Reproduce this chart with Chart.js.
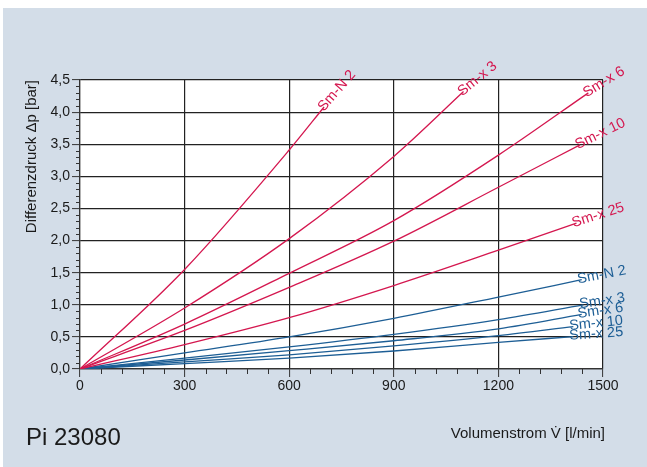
<!DOCTYPE html>
<html>
<head>
<meta charset="utf-8">
<script src="https://cdn.jsdelivr.net/npm/chart.js@4.4.1/dist/chart.umd.min.js"></script>
<style>
    html, body { margin: 0; padding: 0; background: #ffffff; }
    #wrap { width: 647px; height: 467px; }
</style>
</head>
<body>
<div id="wrap"><canvas id="dpChart" width="647" height="467"></canvas></div>
<script>
// Achsen
const xTicks = [0, 300, 600, 900, 1200, 1500];
const yTicks = [0, 0.5, 1, 1.5, 2, 2.5, 3, 3.5, 4, 4.5];

// Kennlinien rot (Volumenstrom l/min, Differenzdruck bar)
const redSmN2X = [0, 300, 600, 700];
const redSmN2Y = [0, 1.55, 3.41, 4.08];
const redSmx3X = [0, 300, 600, 900, 1100];
const redSmx3Y = [0, 0.95, 2.03, 3.31, 4.32];
const redSmx6X = [0, 300, 600, 900, 1200, 1458];
const redSmx6Y = [0, 0.70, 1.49, 2.31, 3.33, 4.30];
const redSmx10X = [0, 300, 600, 900, 1200, 1434];
const redSmx10Y = [0, 0.60, 1.27, 1.99, 2.83, 3.49];
const redSmx25X = [0, 300, 600, 900, 1200, 1424];
const redSmx25Y = [0, 0.38, 0.80, 1.30, 1.85, 2.27];

// Kennlinien blau
const blueSmN2X = [0, 300, 600, 900, 1200, 1439];
const blueSmN2Y = [0, 0.25, 0.50, 0.79, 1.12, 1.39];
const blueSmx3X = [0, 300, 600, 900, 1200, 1444];
const blueSmx3Y = [0, 0.17, 0.345, 0.54, 0.77, 1.00];
const blueSmx6X = [0, 300, 600, 900, 1200, 1439];
const blueSmx6Y = [0, 0.14, 0.285, 0.44, 0.625, 0.85];
const blueSmx10X = [0, 300, 600, 900, 1200, 1415];
const blueSmx10Y = [0, 0.11, 0.22, 0.36, 0.52, 0.66];
const blueSmx25X = [0, 300, 600, 900, 1200, 1415];
const blueSmx25Y = [0, 0.085, 0.17, 0.28, 0.415, 0.505];

const RED = '#d4174f';
const BLUE = '#1d5e95';
const FONT = '"Liberation Sans", Arial, sans-serif';

function pts(xs, ys) {
    return xs.map((x, i) => ({ x: x, y: ys[i] }));
}

function curve(label, xs, ys, color) {
    return {
        label: label,
        data: pts(xs, ys),
        borderColor: color,
        borderWidth: 1.3,
        pointRadius: 0,
        fill: false,
        cubicInterpolationMode: 'monotone'
    };
}

const datasets = [
    curve('Sm-N 2', redSmN2X, redSmN2Y, RED),
    curve('Sm-x 3', redSmx3X, redSmx3Y, RED),
    curve('Sm-x 6', redSmx6X, redSmx6Y, RED),
    curve('Sm-x 10', redSmx10X, redSmx10Y, RED),
    curve('Sm-x 25', redSmx25X, redSmx25Y, RED),
    curve('Sm-N 2', blueSmN2X, blueSmN2Y, BLUE),
    curve('Sm-x 3', blueSmx3X, blueSmx3Y, BLUE),
    curve('Sm-x 6', blueSmx6X, blueSmx6Y, BLUE),
    curve('Sm-x 10', blueSmx10X, blueSmx10Y, BLUE),
    curve('Sm-x 25', blueSmx25X, blueSmx25Y, BLUE)
];

// Hintergrund: hellblaue Fläche, weißes Diagrammfeld
const backgroundPlugin = {
    id: 'bg',
    beforeDraw(chart) {
        const ctx = chart.ctx;
        const a = chart.chartArea;
        ctx.save();
        ctx.fillStyle = '#ffffff';
        ctx.fillRect(0, 0, chart.width, chart.height);
        ctx.fillStyle = '#d3dde8';
        ctx.fillRect(3, 8, chart.width - 3, chart.height - 8);
        ctx.fillStyle = '#ffffff';
        ctx.fillRect(a.left, a.top, a.right - a.left, a.bottom - a.top);
        ctx.restore();
    }
};

// Beschriftung der Kennlinien am Linienende, entlang der Linie gedreht
const lineLabelPlugin = {
    id: 'lineLabels',
    afterDatasetsDraw(chart) {
        const ctx = chart.ctx;
        ctx.save();
        ctx.font = '14.5px ' + FONT;
        ctx.textBaseline = 'middle';
        ctx.textAlign = 'left';
        chart.data.datasets.forEach((ds, i) => {
            const meta = chart.getDatasetMeta(i);
            const n = meta.data.length;
            const p1 = meta.data[n - 1];
            const p0 = meta.data[n - 2];
            const start = meta.data[0];
            // Mittel aus Sehne und letztem Abschnitt
            const a1 = Math.atan2(p1.y - p0.y, p1.x - p0.x);
            const a2 = Math.atan2(p1.y - start.y, p1.x - start.x);
            const ang = (a1 + a2) / 2;
            ctx.save();
            ctx.translate(p1.x, p1.y);
            ctx.rotate(ang);
            ctx.fillStyle = ds.borderColor;
            ctx.fillText(ds.label, -4, -1);
            ctx.restore();
        });
        ctx.restore();
    }
};

// Kleine Teilstriche, Achsentitel und Bildnummer
const extrasPlugin = {
    id: 'extras',
    afterDraw(chart) {
        const ctx = chart.ctx;
        const xs = chart.scales.x;
        const ys = chart.scales.y;
        const a = chart.chartArea;
        ctx.save();
        ctx.strokeStyle = '#333333';
        ctx.lineWidth = 1;
        for (let i = 0; i <= 45; i++) {
            if (i % 5 === 0) continue;
            const py = Math.round(ys.getPixelForValue(i / 10)) + 0.5;
            ctx.beginPath();
            ctx.moveTo(a.left - 4, py);
            ctx.lineTo(a.left, py);
            ctx.stroke();
        }
        for (let i = 0; i <= 25; i++) {
            if (i % 5 === 0) continue;
            const px = Math.round(xs.getPixelForValue(i * 60)) + 0.5;
            ctx.beginPath();
            ctx.moveTo(px, a.bottom);
            ctx.lineTo(px, a.bottom + 5);
            ctx.stroke();
        }

        ctx.fillStyle = '#1a1a1a';
        // y-Achsentitel
        ctx.save();
        ctx.translate(32, a.top);
        ctx.rotate(-Math.PI / 2);
        ctx.font = '15px ' + FONT;
        ctx.textAlign = 'right';
        ctx.textBaseline = 'middle';
        ctx.fillText('Differenzdruck \u0394p [bar]', 0, 0);
        ctx.restore();

        // x-Achsentitel
        ctx.font = '15px ' + FONT;
        ctx.textAlign = 'right';
        ctx.textBaseline = 'middle';
        ctx.fillText('Volumenstrom V\u0307 [l/min]', a.right + 2, 434);

        // Bildnummer
        ctx.font = '24px ' + FONT;
        ctx.textAlign = 'left';
        ctx.fillText('Pi 23080', 26, 438);
        ctx.restore();
    }
};

const ctx = document.getElementById('dpChart').getContext('2d');

new Chart(ctx, {
    type: 'line',
    data: { datasets: datasets },
    options: {
        responsive: false,
        animation: false,
        events: [],
        layout: {
            padding: { top: 80, right: 44, bottom: 0, left: 0 }
        },
        plugins: {
            legend: { display: false },
            tooltip: { enabled: false }
        },
        scales: {
            x: {
                type: 'linear',
                min: 0,
                max: 1500,
                afterFit: (scale) => { scale.height = 467 - 369; },
                afterBuildTicks: (scale) => { scale.ticks = xTicks.map(v => ({ value: v })); },
                ticks: {
                    padding: 1,
                    maxRotation: 0,
                    color: '#1a1a1a',
                    font: { size: 14, family: FONT },
                    callback: (v) => String(v)
                },
                grid: {
                    color: '#222222',
                    lineWidth: 1.2,
                    tickLength: 8,
                    tickColor: '#333333',
                    tickWidth: 1
                },
                border: { color: '#333333', width: 1.2 }
            },
            y: {
                type: 'linear',
                min: 0,
                max: 4.5,
                afterFit: (scale) => { scale.width = 80; },
                afterBuildTicks: (scale) => { scale.ticks = yTicks.map(v => ({ value: v })); },
                ticks: {
                    padding: 2,
                    color: '#1a1a1a',
                    font: { size: 14, family: FONT },
                    callback: (v) => v.toFixed(1).replace('.', ',')
                },
                grid: {
                    color: '#222222',
                    lineWidth: 1.2,
                    tickLength: 8,
                    tickColor: '#333333',
                    tickWidth: 1
                },
                border: { color: '#333333', width: 1.2 }
            }
        }
    },
    plugins: [backgroundPlugin, lineLabelPlugin, extrasPlugin]
});
</script>
</body>
</html>
